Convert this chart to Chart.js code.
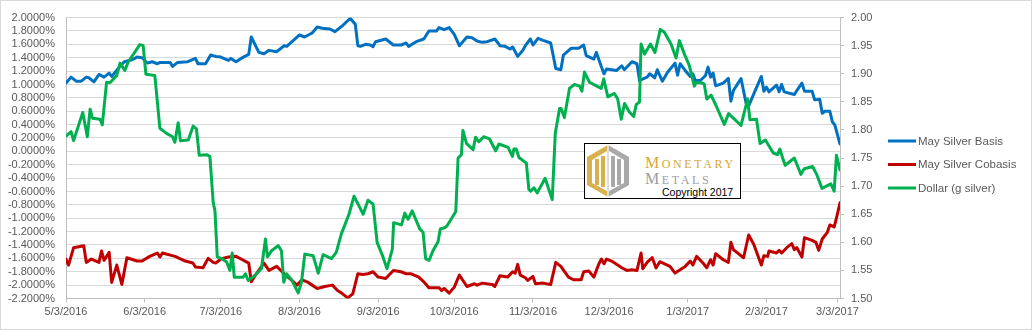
<!DOCTYPE html>
<html lang="en">
<head>
  <meta charset="UTF-8" />
  <title>May Silver Basis / Cobasis vs Dollar</title>
  <style>
    body { margin:0; background:#fff; }
    #wrap { position:relative; width:1032px; height:330px; }
    #logo { position:absolute; left:584px; top:143px; }
  </style>
  <script src="https://cdn.jsdelivr.net/npm/chart.js"></script>
</head>
<body>
<div id="wrap">
  <canvas id="c" width="1032" height="330"></canvas>
  <svg id="logo" width="158" height="57" viewBox="0 0 158 57">
    <rect x="0.5" y="0.5" width="156" height="55" fill="#fff" stroke="#000"/>
    <g transform="translate(3,2)">
      <polygon points="21,0 0,12 0,40 21,52" fill="#d8b04c"/>
      <polygon points="21,0 42,12 42,40 21,52" fill="#a8a8a8"/>
      <polygon points="20,6 5,15 5,38 20,46" fill="#fff"/>
      <polygon points="22,6 37,15 37,38 22,46" fill="#fff"/>
      <rect x="8" y="14" width="4" height="26" fill="#d8b04c"/>
      <rect x="14" y="11" width="4" height="31" fill="#d8b04c"/>
      <rect x="24" y="11" width="4" height="31" fill="#a8a8a8"/>
      <rect x="30" y="14" width="4" height="26" fill="#a8a8a8"/>
      <line x1="21" y1="0" x2="21" y2="52" stroke="#fff" stroke-width="1.2"/>
    </g>
    <text x="61" y="25" font-family="Liberation Serif, serif" fill="#d4a838" letter-spacing="2.6"><tspan font-size="16">M</tspan><tspan font-size="12">ONETARY</tspan></text>
    <text x="61" y="41" font-family="Liberation Serif, serif" fill="#9d9d9d" letter-spacing="2.6"><tspan font-size="16">M</tspan><tspan font-size="12">ETALS</tspan></text>
    <text x="78" y="52.5" font-family="Liberation Sans, Arial, sans-serif" font-size="10.5" fill="#000">Copyright 2017</text>
  </svg>
</div>
<script>
// x values are days after 5/3/2016
const monthDays = [0, 31, 61, 92, 123, 153, 184, 214, 245, 276, 304];
const monthLabels = ['5/3/2016', '6/3/2016', '7/3/2016', '8/3/2016', '9/3/2016', '10/3/2016',
  '11/3/2016', '12/3/2016', '1/3/2017', '2/3/2017', '3/3/2017'];

// May Silver Basis (%)
const basisDays = [0,2,4,6,8,9,11,13,15,17,18,21,23,26,28,30,32,34,36,37,41,42,44,48,51,52,55,57,59,
  61,64,65,67,69,72,73,76,78,80,83,86,87,92,94,97,99,101,104,106,109,112,114,115,116,118,120,
  121,122,126,129,132,134,135,138,141,143,146,147,149,151,153,155,158,160,162,164,166,169,171,173,175,176,178,180,
  181,183,184,186,188,191,193,195,196,199,202,204,205,208,209,211,212,213,217,219,220,223,225,226,229,230,232,233,235,237,240,241,242,244,
  246,247,248,250,252,253,254,255,256,259,261,262,263,266,268,269,274,275,276,277,280,281,282,283,287,288,290,291,294,295,297,298,299,301,302,303,305];
const basisVals = [1.02,1.11,1.05,1.05,1.11,1.10,1.04,1.15,1.11,1.17,1.12,1.26,1.34,1.37,1.41,1.40,1.32,1.34,1.31,1.33,1.33,1.27,1.33,1.34,1.39,1.31,1.31,1.44,1.42,
  1.41,1.36,1.39,1.34,1.39,1.45,1.71,1.48,1.46,1.51,1.49,1.58,1.57,1.74,1.71,1.77,1.86,1.84,1.83,1.79,1.88,1.99,1.90,1.58,1.57,1.60,1.59,
  1.565,1.64,1.68,1.59,1.59,1.62,1.57,1.64,1.68,1.80,1.80,1.85,1.82,1.85,1.75,1.58,1.71,1.70,1.65,1.63,1.64,1.68,1.58,1.57,1.53,1.56,1.42,1.51,
  1.58,1.68,1.59,1.69,1.66,1.62,1.24,1.22,1.44,1.54,1.54,1.59,1.43,1.38,1.48,1.26,1.16,1.23,1.21,1.28,1.22,1.34,1.31,1.06,1.11,1.16,1.10,1.22,1.05,1.18,1.32,1.14,1.31,1.21,
  1.12,1.16,1.06,1.06,1.135,1.26,1.11,1.17,0.98,1.02,1.09,0.75,0.91,1.09,0.72,0.68,1.12,0.90,0.96,0.89,0.99,0.89,1.00,0.89,0.85,0.91,1.02,0.90,0.90,0.77,0.78,0.57,0.60,0.60,0.44,0.39,0.11];

// May Silver Cobasis (%)
const cobasisDays = [0,1,3,7,8,10,13,14,15,17,18,20,22,24,28,30,33,36,37,38,43,47,50,51,54,56,58,
  59,61,64,67,69,72,73,75,78,80,83,86,89,91,93,95,97,99,102,105,107,109,111,113,115,117,119,
  121,123,126,129,132,134,136,139,141,143,147,148,149,151,153,155,158,161,162,164,168,169,171,174,176,177,178,179,181,
  182,184,185,188,191,193,195,198,200,203,204,206,208,210,211,212,213,215,219,221,223,225,226.6,227.3,229,231,232.5,234,238,240,242,244,
  246,247,248.5,251,252.5,254,255,256,259,261,262,263,267,269,271,274,275,276.5,277,280,281,282,284,286,287,288,290,291,294,295.5,296.6,298,300,301,302.7,303.4,305];
const cobasisVals = [-1.61,-1.70,-1.44,-1.41,-1.66,-1.61,-1.66,-1.49,-1.63,-1.51,-1.96,-1.70,-1.99,-1.59,-1.64,-1.64,-1.57,-1.52,-1.58,-1.52,-1.57,-1.64,-1.67,-1.73,-1.74,-1.60,-1.66,
  -1.67,-1.61,-1.58,-1.57,-1.61,-1.67,-1.95,-1.83,-1.67,-1.78,-1.72,-1.83,-1.93,-2.00,-1.92,-1.95,-2.00,-2.05,-2.02,-2.00,-2.08,-2.13,-2.19,-2.13,-1.83,-1.84,-1.83,
  -1.80,-1.88,-1.90,-1.78,-1.80,-1.83,-1.83,-1.88,-1.95,-2.04,-2.04,-2.08,-2.05,-2.12,-2.03,-1.85,-2.02,-1.98,-2.00,-1.97,-1.99,-2.02,-1.86,-1.88,-1.80,-1.82,-1.69,-1.85,-1.89,
  -1.93,-1.87,-1.98,-1.97,-1.99,-1.66,-1.72,-1.88,-1.92,-1.92,-1.80,-1.79,-1.88,-1.68,-1.61,-1.68,-1.61,-1.64,-1.74,-1.78,-1.77,-1.78,-1.52,-1.755,-1.66,-1.59,-1.745,-1.65,-1.72,-1.82,-1.77,-1.72,
  -1.64,-1.70,-1.57,-1.67,-1.74,-1.62,-1.70,-1.53,-1.62,-1.66,-1.36,-1.47,-1.59,-1.25,-1.39,-1.70,-1.56,-1.57,-1.49,-1.52,-1.48,-1.52,-1.44,-1.38,-1.47,-1.44,-1.58,-1.29,-1.33,-1.36,-1.48,-1.31,-1.21,-1.10,-1.13,-1.03,-0.77];

// Dollar (g silver)
const dollarDays = [0,2,3,6.6,8.4,9.5,10.4,13.4,14.3,16,17.3,20,21.3,23.2,24.5,29.1,30.4,31.5,35,37,39.6,42,42.9,44.2,45.1,48.2,50.1,51.4,52.5,55.4,56.7,58,58.7,59.6,
  61.3,63.3,64.6,65.5,66.3,69.8,70.7,71.8,74.4,77,78.6,79.4,81,83.6,84.9,85.8,86.9,88.8,91.5,92.8,94.1,97.4,99.4,101.3,104.6,106.5,108.5,111.5,113.5,115.1,117.1,119,
  121,122.6,124.9,126.5,128.6,129.1,132.2,133.5,134.8,136.4,139.4,140.7,141.7,143.1,144.6,146.6,147.5,149.2,150.1,151.2,153.6,154.5,155.8,156.4,157.8,160.4,161.4,162.7,164.6,166.9,169.3,170.6,174.2,175.9,176.5,177.4,178.5,181.4,182.4,
  183.1,184.4,185.7,188.8,190.5,191.6,192.8,194.5,195.1,196.4,198.4,200.4,202.4,203.3,204.3,206.3,210.9,211.9,213.5,216.1,217.4,218.8,220.1,222,223.7,224.7,226,226.6,228,230.3,232.1,234.2,235.8,238.4,240.4,241.7,
  243.7,245.6,247.6,248.3,250.2,251.5,252.5,254.2,256.1,259.4,261.1,266,268.6,269.5,272.1,273.5,275.6,278.7,280.4,281.3,282.4,283.4,285,287,289.6,290.9,294.2,295.8,297.9,301.4,302.7,303.6,305];
const dollarVals = [1.789,1.797,1.781,1.831,1.788,1.837,1.821,1.819,1.809,1.885,1.884,1.897,1.919,1.906,1.921,1.952,1.950,1.899,1.897,1.803,1.794,1.788,1.778,1.813,1.781,1.782,1.807,1.802,1.755,1.756,1.753,1.671,1.656,1.574,
  1.571,1.565,1.550,1.581,1.538,1.538,1.544,1.532,1.541,1.553,1.606,1.574,1.585,1.594,1.585,1.529,1.544,1.534,1.510,1.529,1.579,1.576,1.545,1.578,1.571,1.582,1.615,1.650,1.682,1.668,1.650,1.675,
  1.668,1.600,1.574,1.553,1.588,1.635,1.631,1.652,1.641,1.656,1.624,1.618,1.571,1.568,1.585,1.601,1.624,1.626,1.629,1.637,1.655,1.750,1.756,1.799,1.776,1.765,1.787,1.779,1.788,1.784,1.763,1.775,1.769,1.753,1.766,1.766,1.751,1.741,1.694,
  1.691,1.697,1.688,1.714,1.691,1.676,1.794,1.838,1.838,1.822,1.874,1.881,1.878,1.869,1.903,1.885,1.874,1.891,1.859,1.865,1.855,1.819,1.847,1.832,1.824,1.845,1.850,1.953,1.935,1.953,1.938,1.979,1.974,1.953,1.928,1.959,
  1.935,1.915,1.878,1.884,1.884,1.882,1.855,1.862,1.844,1.810,1.829,1.808,1.855,1.818,1.819,1.776,1.782,1.759,1.756,1.766,1.750,1.737,1.743,1.750,1.721,1.731,1.735,1.721,1.696,1.704,1.691,1.755,1.729];

const pts = (xs, ys) => xs.map((x, i) => ({ x: x, y: ys[i] }));

Chart.defaults.font.family = "'Liberation Sans', Arial, sans-serif";
Chart.defaults.font.size = 11;
Chart.defaults.color = '#595959';

const frame = {
  id: 'frame',
  beforeDraw(chart) {
    const ctx = chart.ctx;
    ctx.save();
    ctx.fillStyle = '#fff';
    ctx.fillRect(0, 0, chart.width, chart.height);
    ctx.strokeStyle = '#d9d9d9';
    ctx.lineWidth = 1;
    ctx.strokeRect(0.5, 0.5, chart.width - 1, chart.height - 1);
    ctx.restore();
  },
  afterDraw(chart) {
    // legend on the right
    const ctx = chart.ctx;
    ctx.save();
    ctx.font = "11.5px 'Liberation Sans', Arial, sans-serif";
    ctx.textBaseline = 'middle';
    chart.data.datasets.forEach((ds, i) => {
      const y = 141 + i * 23.5;
      ctx.strokeStyle = ds.borderColor;
      ctx.lineWidth = 3;
      ctx.beginPath();
      ctx.moveTo(888, y);
      ctx.lineTo(916, y);
      ctx.stroke();
      ctx.fillStyle = '#595959';
      ctx.fillText(ds.label, 918, y + 0.5);
    });
    ctx.restore();
  }
};

new Chart(document.getElementById('c'), {
  type: 'line',
  data: {
    datasets: [
      { label: 'May Silver Basis', data: pts(basisDays, basisVals), yAxisID: 'y',
        borderColor: '#0070C0', order: 2 },
      { label: 'May Silver Cobasis', data: pts(cobasisDays, cobasisVals), yAxisID: 'y',
        borderColor: '#C00000', order: 1 },
      { label: 'Dollar (g silver)', data: pts(dollarDays, dollarVals), yAxisID: 'y2',
        borderColor: '#00B050', order: 0 }
    ]
  },
  options: {
    responsive: false,
    animation: false,
    events: [],
    elements: {
      line: { borderWidth: 3, tension: 0, borderJoinStyle: 'round', borderCapStyle: 'round' },
      point: { radius: 0 }
    },
    layout: { padding: { left: 0, top: 15, right: 152, bottom: 0 } },
    plugins: { legend: { display: false }, tooltip: { enabled: false } },
    scales: {
      x: {
        type: 'linear', min: 0, max: 305,
        afterBuildTicks: s => { s.ticks = monthDays.map(v => ({ value: v })); },
        afterFit: s => { s.height = 31.5; },
        ticks: { autoSkip: false, maxRotation: 0, padding: 3,
          callback: (v, i) => monthLabels[i] },
        grid: { drawOnChartArea: false, tickLength: 4, color: '#bfbfbf' },
        border: { color: '#bfbfbf' }
      },
      y: {
        position: 'left', min: -2.2, max: 2.0,
        afterFit: s => { s.width = 66; },
        ticks: { stepSize: 0.2, autoSkip: false, padding: 11,
          callback: v => Number(v).toFixed(4) + '%' },
        grid: { color: '#d9d9d9', drawTicks: false },
        border: { color: '#bfbfbf' }
      },
      y2: {
        position: 'right', min: 1.5, max: 2.0,
        afterFit: s => { s.width = 40; },
        ticks: { stepSize: 0.05, autoSkip: false, padding: 7,
          callback: v => Number(v).toFixed(2) },
        grid: { drawOnChartArea: false, tickLength: 4, color: '#bfbfbf' },
        border: { color: '#bfbfbf' }
      }
    }
  },
  plugins: [frame]
});
</script>
</body>
</html>
